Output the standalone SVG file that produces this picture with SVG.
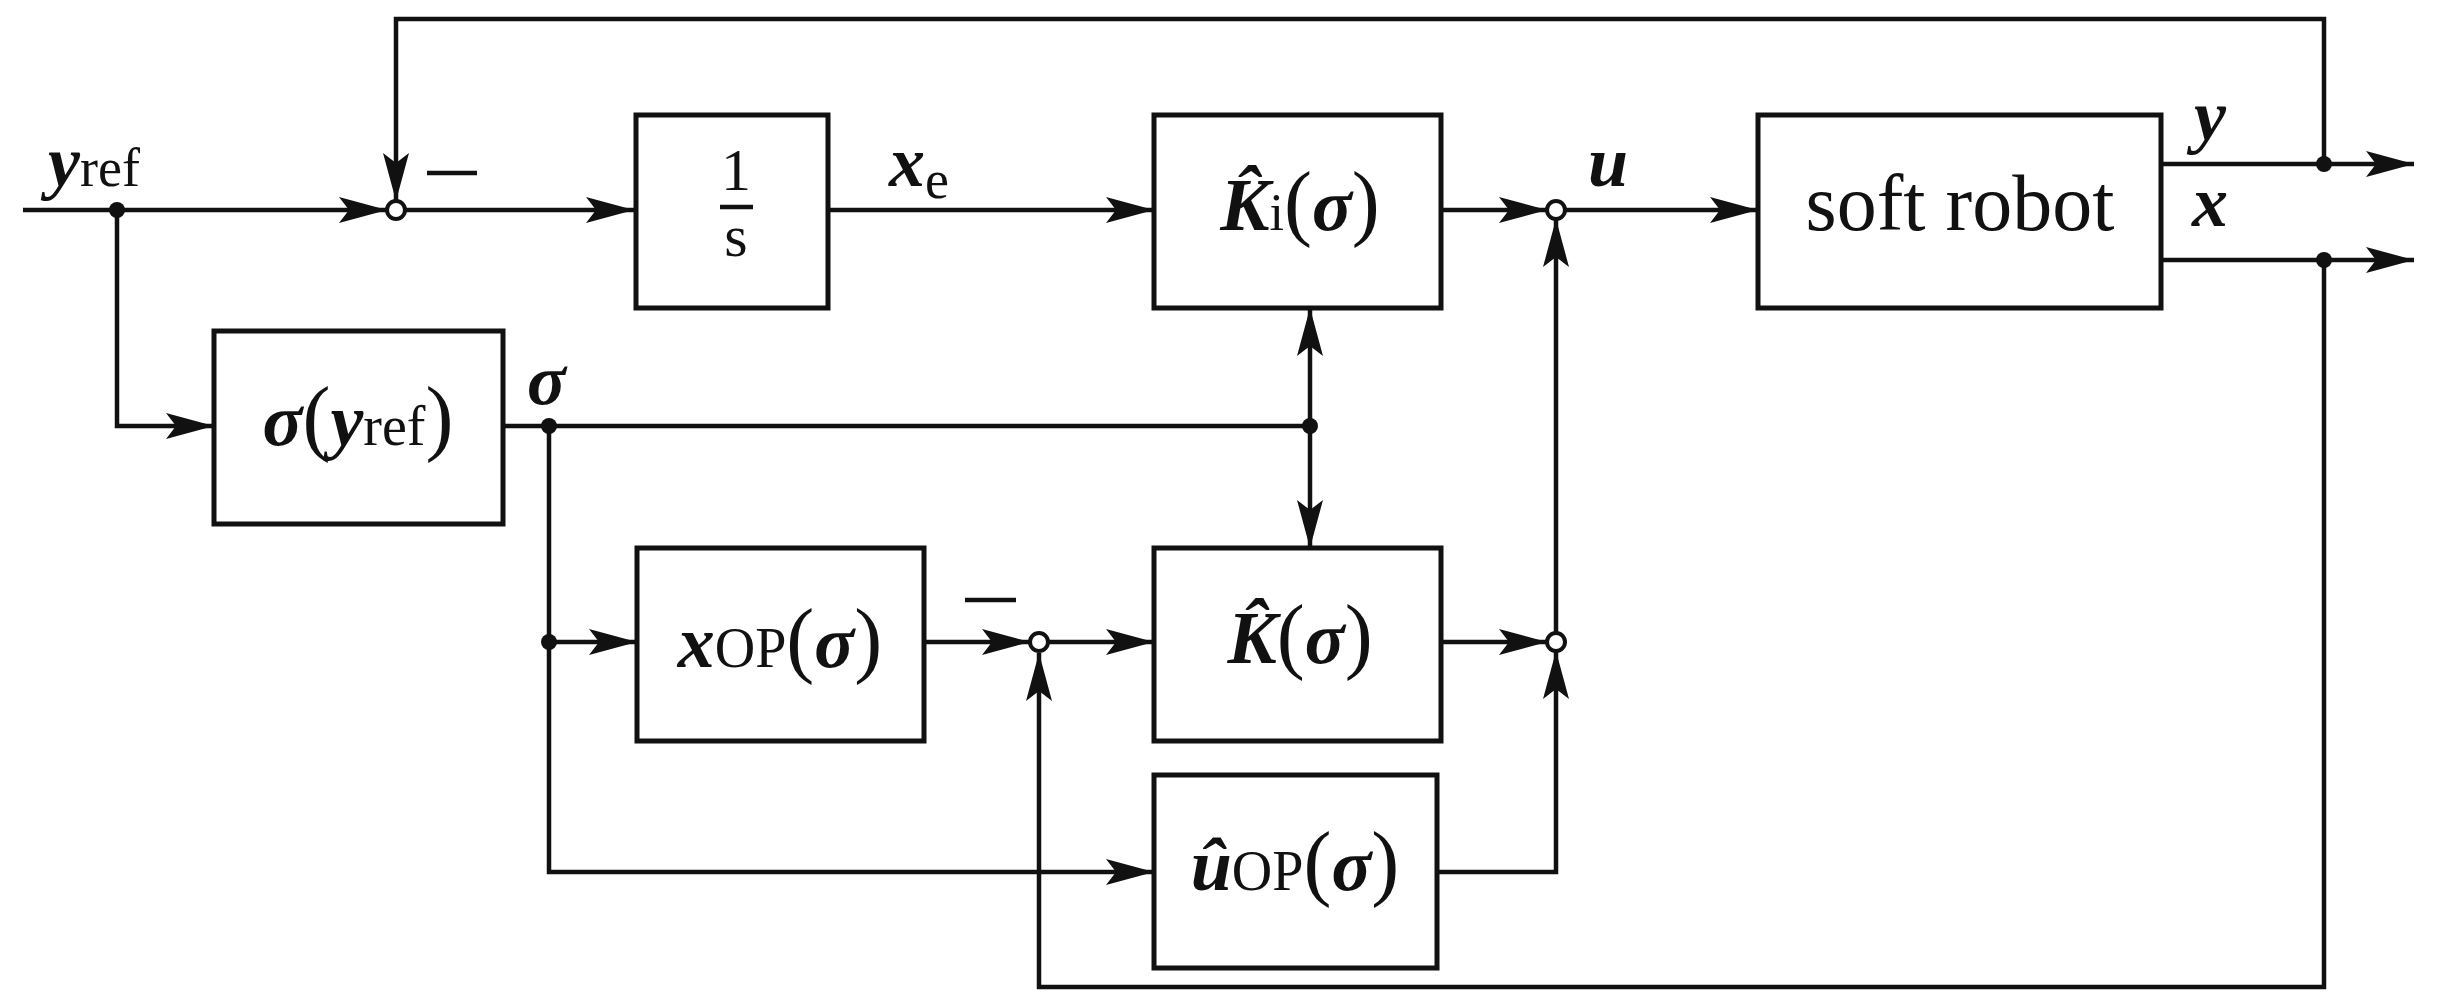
<svg xmlns="http://www.w3.org/2000/svg" width="2438" height="1006" viewBox="0 0 2438 1006">
<style>
.w{fill:none;stroke:#111;stroke-width:4.5}
.a{marker-end:url(#ar)}
.b{fill:#fff;stroke:#111;stroke-width:5}
.s{fill:#fff;stroke:#111;stroke-width:4}
.d{fill:#111}
text{font-family:"Liberation Serif","DejaVu Serif",serif;fill:#111}
.m{font-style:italic;font-weight:bold}
.r{font-style:normal;font-weight:normal}
</style>
<defs>
<marker id="ar" markerUnits="userSpaceOnUse" markerWidth="60" markerHeight="40" viewBox="-50 -20 60 40" refX="0" refY="0" orient="auto" overflow="visible">
<path d="M0,0 L-48,-13 L-38,0 L-48,13 Z" fill="#111"/>
</marker>
</defs>
<g id="connectors">
<path class="w a" d="M23,210 H387"/>
<path class="w a" d="M405,210 H634"/>
<path class="w a" d="M828,210 H1154"/>
<path class="w a" d="M1441,210 H1547"/>
<path class="w a" d="M1565,210 H1758"/>
<path class="w a" d="M117,210 V426 H214"/>
<path class="w a" d="M2324,164 V19 H396 V201"/>
<path class="w a" d="M2161,164 H2414"/>
<path class="w a" d="M2161,260 H2414"/>
<path class="w a" d="M2324,260 V987 H1039 V653"/>
<path class="w" d="M503,426 H1310"/>
<path class="w a" d="M1310,426 V308"/>
<path class="w a" d="M1310,426 V548"/>
<path class="w a" d="M549,426 V872 H1154"/>
<path class="w a" d="M549,642 H637"/>
<path class="w a" d="M924,642 H1030"/>
<path class="w a" d="M1048,642 H1154"/>
<path class="w a" d="M1441,642 H1547"/>
<path class="w a" d="M1437,872 H1556 V651"/>
<path class="w a" d="M1556,633 V219"/>
<circle class="d" cx="117" cy="210" r="8"/>
<circle class="d" cx="549" cy="426" r="8"/>
<circle class="d" cx="549" cy="642" r="8"/>
<circle class="d" cx="1310" cy="426" r="8"/>
<circle class="d" cx="2324" cy="164" r="8"/>
<circle class="d" cx="2324" cy="260" r="8"/>
<path class="w" d="M427,173 H477"/>
<path class="w" d="M965,600 H1016"/>
</g>
<g id="sum1"><circle class="s" cx="396" cy="210" r="9"/></g>
<g id="sumu"><circle class="s" cx="1556" cy="210" r="9"/></g>
<g id="sum2"><circle class="s" cx="1039" cy="642" r="9"/></g>
<g id="sum3"><circle class="s" cx="1556" cy="642" r="9"/></g>
<g id="integrator">
<rect class="b" x="636" y="115" width="192" height="193"/>
<text x="736" y="190" font-size="60" text-anchor="middle">1</text>
<path class="w" d="M720,207 H753" stroke-width="3.5"/>
<text x="736" y="256" font-size="60" text-anchor="middle">s</text>
</g>
<g id="Ki">
<rect class="b" x="1154" y="115" width="287" height="193"/>
<text x="1300" y="230" font-size="74" text-anchor="middle"><tspan class="m">K̂</tspan><tspan class="r" font-size="52">i</tspan><tspan class="r" font-size="84">(</tspan><tspan class="m">σ</tspan><tspan class="r" font-size="84">)</tspan></text>
</g>
<g id="robot">
<rect class="b" x="1758" y="115" width="403" height="193"/>
<text x="1960" y="230" font-size="80" text-anchor="middle">soft robot</text>
</g>
<g id="sigma">
<rect class="b" x="214" y="331" width="289" height="193"/>
<text x="358" y="445" font-size="74" text-anchor="middle"><tspan class="m">σ</tspan><tspan class="r" font-size="84">(</tspan><tspan class="m">y</tspan><tspan class="r" font-size="56">ref</tspan><tspan class="r" font-size="84">)</tspan></text>
</g>
<g id="xOP">
<rect class="b" x="637" y="548" width="287" height="193"/>
<text x="780" y="667" font-size="74" text-anchor="middle"><tspan class="m">x</tspan><tspan class="r" font-size="56">OP</tspan><tspan class="r" font-size="84">(</tspan><tspan class="m">σ</tspan><tspan class="r" font-size="84">)</tspan></text>
</g>
<g id="K">
<rect class="b" x="1154" y="548" width="287" height="193"/>
<text x="1300" y="663" font-size="74" text-anchor="middle"><tspan class="m">K̂</tspan><tspan class="r" font-size="84">(</tspan><tspan class="m">σ</tspan><tspan class="r" font-size="84">)</tspan></text>
</g>
<g id="uOP">
<rect class="b" x="1154" y="775" width="283" height="193"/>
<text x="1295" y="890" font-size="74" text-anchor="middle"><tspan class="m">û</tspan><tspan class="r" font-size="56">OP</tspan><tspan class="r" font-size="84">(</tspan><tspan class="m">σ</tspan><tspan class="r" font-size="84">)</tspan></text>
</g>
<g id="labels">
<text x="48" y="186" font-size="72"><tspan class="m">y</tspan><tspan class="r" font-size="54">ref</tspan></text>
<text x="889" y="186" font-size="72"><tspan class="m">x</tspan><tspan class="r" font-style="italic" font-size="54" dy="12">e</tspan></text>
<text x="527" y="404" font-size="72" class="m">σ</text>
<text x="1588" y="186" font-size="72" class="m">u</text>
<text x="2194" y="140" font-size="72" class="m">y</text>
<text x="2192" y="226" font-size="72" class="m">x</text>
</g>
</svg>
